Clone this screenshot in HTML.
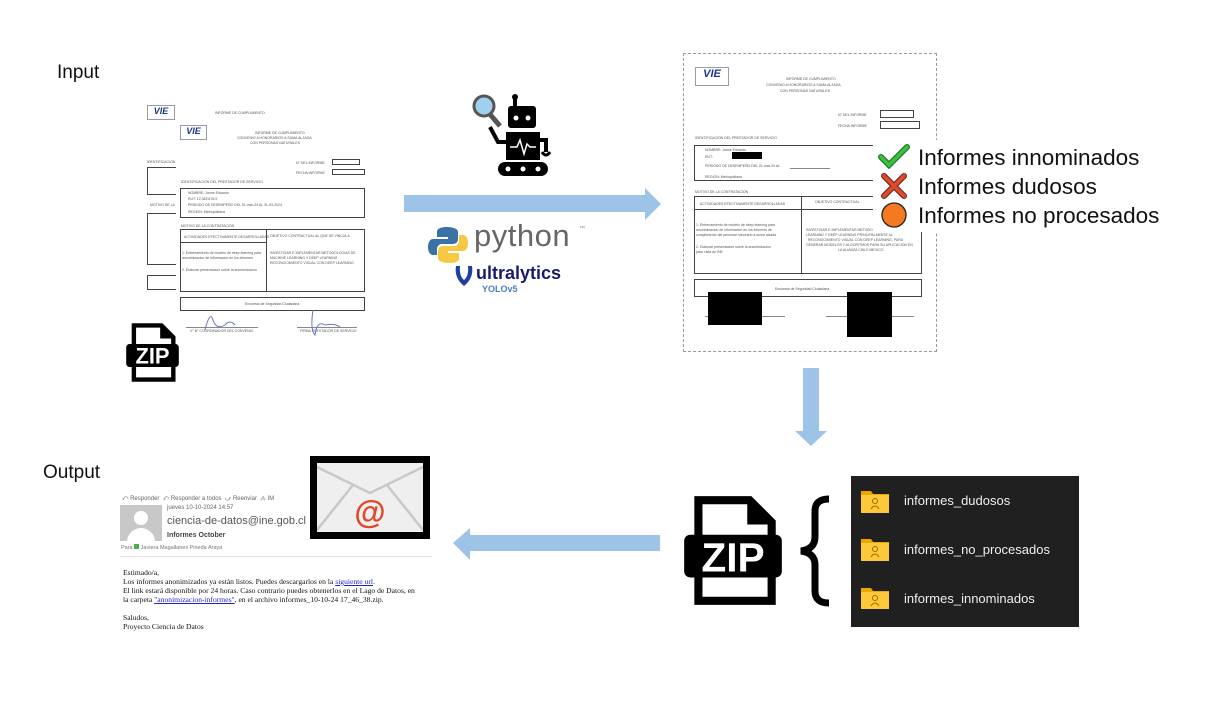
<!DOCTYPE html>
<html><head><meta charset="utf-8">
<style>
*{margin:0;padding:0;box-sizing:border-box}
body{width:1225px;height:720px;background:#fff;position:relative;overflow:hidden;font-family:"Liberation Sans",sans-serif}
.a{position:absolute}
.t{position:absolute;font-size:3.5px;color:#555;white-space:nowrap;line-height:4px}
.bx{position:absolute;border:1px solid #444}
.ln{position:absolute;height:1px;background:#888}
.logo{position:absolute;border:1px solid #99a;background:#fff;color:#1c3a8a;font-weight:bold;font-style:italic;text-align:center}
</style></head><body>

<div class="a" style="left:57px;top:62px;font-size:19px;color:#111">Input</div>
<div class="a" style="left:43px;top:462px;font-size:19px;color:#111">Output</div>

<svg class="a" style="left:0;top:0" width="1225" height="720">
<polygon points="404,195 645,195 645,188 661,204 645,220 645,212 404,212" fill="#9dc3e6"/>
<polygon points="803,368 819,368 819,431 827,431 811,446 795,431 803,431" fill="#9dc3e6"/>
<polygon points="660,535 470,535 470,528 453,543 470,560 470,551 660,551" fill="#9dc3e6"/>
</svg>

<div class="logo" style="left:147px;top:105px;width:28px;height:15px;font-size:9px">VIE</div>
<div class="t" style="left:215px;top:111px">INFORME DE CUMPLIMIENTO</div>
<div class="t" style="left:147px;top:160px">IDENTIFICACION</div>
<div class="bx" style="left:147px;top:167px;width:40px;height:28px;border-right:none"></div>
<div class="t" style="left:150px;top:203px">MOTIVO DE LA</div>
<div class="bx" style="left:147px;top:213px;width:40px;height:52px;border-right:none"></div>
<div class="bx" style="left:147px;top:275px;width:40px;height:15px;border-right:none"></div>
<div class="a" style="left:176px;top:120px;width:195px;height:225px;background:#fff"></div>
<div class="logo" style="left:180px;top:125px;width:27px;height:15px;font-size:9px">VIE</div>
<div class="t" style="left:255px;top:131px">INFORME DE CUMPLIMIENTO</div>
<div class="t" style="left:237px;top:136px">CONVENIO A HONORARIOS A SUMA ALZADA</div>
<div class="t" style="left:250px;top:141px">CON PERSONAS NATURALES</div>
<div class="t" style="left:296px;top:161px">N° DEL INFORME</div>
<div class="bx" style="left:332px;top:159px;width:28px;height:6px"></div>
<div class="t" style="left:296px;top:171px">FECHA INFORME</div>
<div class="bx" style="left:332px;top:169px;width:33px;height:6px"></div>
<div class="t" style="left:181px;top:180px">IDENTIFICACION DEL PRESTADOR DE SERVICIO</div>
<div class="bx" style="left:180px;top:188px;width:185px;height:30px"></div>
<div class="t" style="left:188px;top:191px">NOMBRE: Jaime Eduardo</div>
<div class="t" style="left:188px;top:197px">RUT: 12.345.678-9</div>
<div class="t" style="left:188px;top:203px">PERIODO DE DESEMPEÑO  DEL  01-mar-24  AL  31-03-2024</div>
<div class="t" style="left:188px;top:210px">REGION: Metropolitana</div>
<div class="t" style="left:181px;top:224px">MOTIVO DE LA CONTRATACION</div>
<div class="bx" style="left:180px;top:229px;width:185px;height:63px"></div>
<div class="a" style="left:266px;top:229px;width:1px;height:63px;background:#444"></div>
<div class="a" style="left:180px;top:242px;width:86px;height:1px;background:#444"></div>
<div class="t" style="left:184px;top:235px">ACTIVIDADES EFECTIVAMENTE DESARROLLADAS</div>
<div class="t" style="left:270px;top:234px">OBJETIVO CONTRACTUAL AL QUE SE VINCULA</div>
<div class="t" style="left:182px;top:251px">1. Entrenamiento de modelo de deep learning para</div>
<div class="t" style="left:182px;top:256px">anonimizacion de informacion en los informes</div>
<div class="t" style="left:182px;top:268px">2. Elaborar presentacion sobre la anonimizacion</div>
<div class="t" style="left:270px;top:251px">INVESTIGAR E IMPLEMENTAR METODOLOGIAS DE</div>
<div class="t" style="left:270px;top:256px">MACHINE LEARNING Y DEEP LEARNING</div>
<div class="t" style="left:270px;top:261px">RECONOCIMIENTO VISUAL CON DEEP LEARNING</div>
<div class="bx" style="left:180px;top:297px;width:185px;height:14px"></div>
<div class="t" style="left:245px;top:302px">Encuesta de Seguridad Ciudadana</div>
<div class="ln" style="left:186px;top:327px;width:72px"></div>
<div class="ln" style="left:297px;top:327px;width:60px"></div>
<div class="t" style="left:190px;top:329px">V° B° COORDINADOR DEL CONVENIO</div>
<div class="t" style="left:300px;top:329px">FIRMA PRESTADOR DE SERVICIO</div>
<svg class="a" style="left:195px;top:305px" width="160" height="35"><path d="M10 25 Q15 5 18 15 T30 20 Q35 14 40 20" stroke="#6a75c8" fill="none"/><path d="M118 5 Q115 25 120 30 Q122 15 130 20 Q140 18 145 22" stroke="#6a75c8" fill="none"/></svg>

<svg class="a" style="left:125px;top:321px" width="55" height="63" viewBox="0 0 100 115">
<path d="M12 4 H68 L92 28 V111 H12 Z" fill="#000"/>
<path d="M20 12 H64 V32 H84 V103 H20 Z" fill="#fff"/>
<rect x="2" y="42" width="96" height="42" rx="6" fill="#000"/>
<text x="50" y="78" font-family="Liberation Sans" font-weight="bold" font-size="40" fill="#fff" text-anchor="middle">ZIP</text>
</svg>

<svg class="a" style="left:470px;top:92px" width="90" height="88" viewBox="0 0 90 88">
<rect x="43" y="5" width="4" height="10" fill="#000"/><circle cx="45" cy="5" r="3" fill="#000"/>
<rect x="38" y="14" width="28" height="22" rx="3" fill="#000"/>
<circle cx="46" cy="26" r="2.5" fill="#fff"/><circle cx="58" cy="26" r="2.5" fill="#fff"/>
<rect x="36" y="40" width="34" height="28" fill="#000"/>
<polyline points="40,55 47,55 50,48 54,62 57,52 60,55 66,55" stroke="#fff" stroke-width="1.5" fill="none"/>
<path d="M36 50 H28 L20 35" stroke="#000" stroke-width="4" fill="none"/>
<path d="M70 48 H76 V60" stroke="#000" stroke-width="4" fill="none"/>
<path d="M72 60 Q76 66 80 60" stroke="#000" stroke-width="3" fill="none"/>
<rect x="28" y="70" width="50" height="14" rx="7" fill="#000"/>
<circle cx="38" cy="77" r="2.5" fill="#fff"/><circle cx="53" cy="77" r="2.5" fill="#fff"/><circle cx="68" cy="77" r="2.5" fill="#fff"/>
<line x1="18" y1="20" x2="30" y2="34" stroke="#555" stroke-width="5"/>
<circle cx="14" cy="14" r="10" fill="#9fd0ee" stroke="#555" stroke-width="3"/>
</svg>

<svg class="a" style="left:428px;top:225px" width="40" height="40" viewBox="0 0 40 40">
<path d="M19 2 C8 2 9 7 9 7 V12 H20 V14 H5 C0 14 0 22 0 22 C0 30 5 30 5 30 H9 V24 C9 20 13 19 13 19 H25 C25 19 30 19 30 14 V7 C30 2 19 2 19 2Z" fill="#3a72a6"/>
<path d="M21 38 C32 38 31 33 31 33 V28 H20 V26 H35 C40 26 40 18 40 18 C40 10 35 10 35 10 H31 V16 C31 20 27 21 27 21 H15 C15 21 10 21 10 26 V33 C10 38 21 38 21 38Z" fill="#f6c944"/>
</svg>
<div class="a" style="left:474px;top:218px;font-size:31px;color:#666;letter-spacing:0.5px">python</div>
<div class="a" style="left:579px;top:226px;font-size:6px;color:#888">™</div>
<svg class="a" style="left:454px;top:264px" width="20" height="26"><path d="M2 2 Q0 14 10 22 Q20 14 18 2 L14 2 Q15 12 10 16 Q5 12 6 2Z" fill="#1f3fa0"/></svg>
<div class="a" style="left:476px;top:263px;font-size:18px;font-weight:bold;color:#1a1a6e">ultralytics</div>
<div class="a" style="left:482px;top:284px;font-size:9px;font-weight:bold;color:#4a7fc0">YOLOv5</div>

<div class="a" style="left:683px;top:53px;width:254px;height:299px;border:1px dashed #999"></div>
<div class="logo" style="left:695px;top:67px;width:34px;height:19px;font-size:11px">VIE</div>
<div class="t" style="left:786px;top:77px">INFORME DE CUMPLIMIENTO</div>
<div class="t" style="left:766px;top:83px">CONVENIO A HONORARIOS A SUMA ALZADA</div>
<div class="t" style="left:780px;top:89px">CON PERSONAS NATURALES</div>
<div class="t" style="left:838px;top:113px">N° DEL INFORME</div>
<div class="bx" style="left:880px;top:110px;width:34px;height:8px"></div>
<div class="t" style="left:838px;top:124px">FECHA INFORME</div>
<div class="bx" style="left:880px;top:121px;width:40px;height:8px"></div>
<div class="t" style="left:695px;top:136px">IDENTIFICACION DEL PRESTADOR DE SERVICIO</div>
<div class="bx" style="left:694px;top:145px;width:245px;height:36px"></div>
<div class="t" style="left:705px;top:148px">NOMBRE: Jaime Eduardo</div>
<div class="t" style="left:705px;top:155px">RUT:</div>
<div class="a" style="left:732px;top:152px;width:30px;height:7px;background:#000"></div>
<div class="t" style="left:705px;top:164px">PERIODO DE DESEMPEÑO   DEL      01-mar-24     AL</div>
<div class="t" style="left:705px;top:175px">REGION:      Metropolitana</div>
<div class="ln" style="left:790px;top:168px;width:40px"></div>
<div class="t" style="left:695px;top:190px">MOTIVO DE LA CONTRATACION</div>
<div class="bx" style="left:694px;top:196px;width:228px;height:78px"></div>
<div class="a" style="left:801px;top:196px;width:1px;height:78px;background:#444"></div>
<div class="a" style="left:694px;top:209px;width:228px;height:1px;background:#444"></div>
<div class="t" style="left:700px;top:202px">ACTIVIDADES EFECTIVAMENTE DESARROLLADAS</div>
<div class="t" style="left:815px;top:200px">OBJETIVO CONTRACTUAL</div>
<div class="t" style="left:696px;top:223px">1. Entrenamiento de modelo de deep learning para</div>
<div class="t" style="left:696px;top:228px">anonimizacion de informacion en los informes de</div>
<div class="t" style="left:696px;top:233px">cumplimiento del personal honorario a suma alzada</div>
<div class="t" style="left:696px;top:245px">2. Elaborar presentacion sobre la anonimizacion</div>
<div class="t" style="left:696px;top:250px">para vista de INE</div>
<div class="t" style="left:806px;top:228px">INVESTIGAR E IMPLEMENTAR METODOLOGIAS DE</div>
<div class="t" style="left:806px;top:233px">LEARNING Y DEEP LEARNING PRINCIPALMENTE AL</div>
<div class="t" style="left:808px;top:238px">RECONOCIMIENTO VISUAL CON DEEP LEARNING, PARA</div>
<div class="t" style="left:806px;top:243px">GENERAR MODELOS Y ALGORITMOS PARA SU APLICACION EN</div>
<div class="t" style="left:838px;top:248px">LA ALIANZA CHILE MEXICO</div>
<div class="bx" style="left:694px;top:279px;width:228px;height:18px"></div>
<div class="t" style="left:775px;top:287px">Encuesta de Seguridad Ciudadana</div>
<div class="ln" style="left:705px;top:316px;width:80px"></div>
<div class="ln" style="left:826px;top:316px;width:88px"></div>
<div class="a" style="left:708px;top:292px;width:54px;height:33px;background:#000"></div>
<div class="a" style="left:847px;top:292px;width:45px;height:45px;background:#000"></div>

<div class="a" style="left:873px;top:140px;width:310px;height:92px;background:#fff"></div>
<svg class="a" style="left:877px;top:143px" width="36" height="90">
<path d="M4 14 L12 22 L30 4" stroke="#1d7a2a" stroke-width="6" fill="none" stroke-linecap="round"/>
<path d="M4 14 L12 22 L30 4" stroke="#3fbf3f" stroke-width="3.5" fill="none" stroke-linecap="round"/>
<path d="M7 33 L27 53 M27 33 L7 53" stroke="#6b2a1a" stroke-width="6" stroke-linecap="round"/>
<path d="M7 33 L27 53 M27 33 L7 53" stroke="#e0492e" stroke-width="3.8" stroke-linecap="round"/>
<circle cx="17" cy="72" r="12" fill="#f47a20" stroke="#222" stroke-width="1.3"/>
</svg>
<div class="a" style="left:918px;top:143px;font-size:22.5px;line-height:29px;color:#111;white-space:nowrap">Informes innominados<br>Informes dudosos<br>Informes no procesados</div>

<svg class="a" style="left:682px;top:492px" width="102" height="117" viewBox="0 0 100 115">
<path d="M12 4 H68 L92 28 V111 H12 Z" fill="#000"/>
<path d="M20 12 H64 V32 H84 V103 H20 Z" fill="#fff"/>
<rect x="2" y="42" width="96" height="42" rx="6" fill="#000"/>
<text x="50" y="78" font-family="Liberation Sans" font-weight="bold" font-size="40" fill="#fff" text-anchor="middle">ZIP</text>
</svg>
<svg class="a" style="left:795px;top:495px" width="40" height="112">
<path d="M34 4 Q20 4 20 16 V42 Q20 54 6 56 Q20 58 20 70 V96 Q20 108 34 108" stroke="#000" stroke-width="7" fill="none"/>
</svg>

<div class="a" style="left:851px;top:476px;width:228px;height:151px;background:#202020"></div>
<svg class="a" style="left:861px;top:489px" width="30" height="120">
<g id="f"><path d="M0 2 H10 L12 5 H28 V24 H0Z" fill="#e8a800"/><rect x="0" y="6" width="28" height="18" fill="#fcc93a"/><circle cx="14" cy="12" r="2.5" fill="none" stroke="#a06a00"/><path d="M10 20 Q14 14 18 20" fill="none" stroke="#a06a00"/></g>
<use href="#f" y="48"/><use href="#f" y="97"/>
</svg>
<div class="a" style="left:904px;top:476px;font-size:13px;line-height:49px;color:#eee;white-space:nowrap">informes_dudosos<br>informes_no_procesados<br>informes_innominados</div>

<div class="a" style="left:310px;top:456px;width:120px;height:83px;background:#000"></div>
<svg class="a" style="left:317px;top:463px" width="106" height="69">
<rect width="106" height="69" fill="#efefef"/>
<path d="M0 4 L53 30 L106 4" stroke="#c8c8c8" stroke-width="2.5" fill="none"/>
<path d="M0 67 L36 22 M106 67 L70 22" stroke="#c8c8c8" stroke-width="2.5" fill="none"/>
<text x="53" y="60" font-family="Liberation Sans" font-size="32" font-weight="bold" fill="#e0482a" text-anchor="middle">@</text>
</svg>

<div class="a" style="left:122px;top:496px;font-size:6px;color:#666;white-space:nowrap">⤺ Responder &nbsp;⤺ Responder a todos &nbsp;⤻ Reenviar &nbsp;⁂ IM</div>
<div class="a" style="left:120px;top:505px;width:42px;height:36px;background:#c8c8c8;overflow:hidden"><div style="position:absolute;left:14px;top:6px;width:14px;height:14px;border-radius:50%;background:#fff"></div><div style="position:absolute;left:7px;top:23px;width:28px;height:20px;border-radius:14px 14px 0 0;background:#fff"></div></div>
<div class="a" style="left:167px;top:505px;font-size:6px;color:#666">jueves 10-10-2024 14:57</div>
<div class="a" style="left:167px;top:515px;font-size:11px;color:#555;white-space:nowrap">ciencia-de-datos@ine.gob.cl</div>
<div class="a" style="left:167px;top:532px;font-size:7px;color:#444;font-weight:bold">Informes October</div>
<div class="a" style="left:121px;top:544px;font-size:5.5px;color:#777"><span>Para</span> <span style="display:inline-block;width:5px;height:5px;background:#4caf50"></span> Javiera Magallanes Pineda Araya</div>
<div class="a" style="left:120px;top:556px;width:312px;height:1px;background:#e4e4e4"></div>
<div class="a" style="left:123px;top:568px;font-family:'Liberation Serif',serif;font-size:7.6px;line-height:9px;color:#111;white-space:nowrap">Estimado/a,<br>Los informes anonimizados ya están listos. Puedes descargarlos en la <u style="color:#2222cc">siguiente url</u>.<br>El link estará disponible por 24 horas. Caso contrario puedes obtenerlos en el Lago de Datos, en<br>la carpeta <u style="color:#2222cc">"anonimizacion-informes"</u>, en el archivo informes_10-10-24 17_46_38.zip.<br><br>Saludos,<br>Proyecto Ciencia de Datos</div>
</body></html>
